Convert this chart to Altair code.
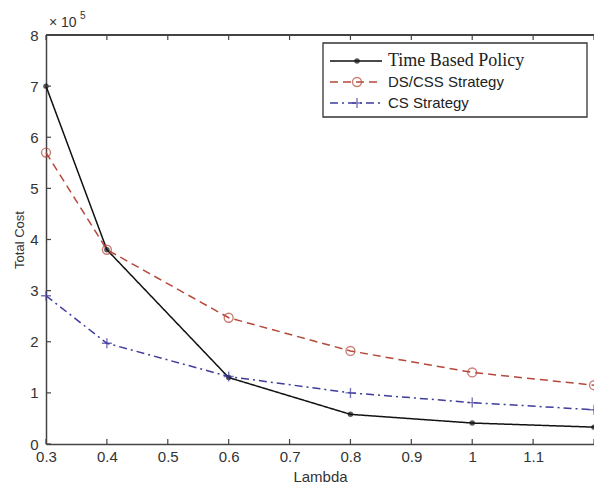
import altair as alt
import pandas as pd

lam = [0.3, 0.4, 0.6, 0.8, 1.0, 1.2]
time_based = [7.0, 3.8, 1.3, 0.58, 0.41, 0.33]
ds_css = [5.7, 3.8, 2.47, 1.82, 1.40, 1.15]
cs = [2.9, 1.97, 1.32, 1.0, 0.81, 0.67]

series_names = ["Time Based Policy", "DS/CSS Strategy", "CS Strategy"]
series_colors = ["#111111", "#b5483a", "#3f3c9c"]
series_dash = [[1, 0], [8, 5], [8, 4, 2, 4]]

x_ticks = [0.3, 0.4, 0.5, 0.6, 0.7, 0.8, 0.9, 1.0, 1.1, 1.2]
y_ticks = [0, 1, 2, 3, 4, 5, 6, 7, 8]

W, H = 548, 409
FONT = "Liberation Sans"

rows = []
for name, vals in zip(series_names, [time_based, ds_css, cs]):
    for l, v in zip(lam, vals):
        rows.append({"series": name, "lambda": l, "cost": v})
df = pd.DataFrame(rows)

xs = alt.Scale(domain=[0.3, 1.2], nice=False, zero=False)
ys = alt.Scale(domain=[0, 8], nice=False)
cscale = alt.Scale(domain=series_names, range=series_colors)
dscale = alt.Scale(domain=series_names, range=series_dash)

base = alt.Chart(df)

lines = base.mark_line(strokeWidth=1.5).encode(
    x=alt.X("lambda:Q", scale=xs,
            axis=alt.Axis(values=x_ticks, title="Lambda", tickSize=0, labelPadding=5,
                          labelFlush=False, labelOverlap=False,
                          labelFont=FONT, labelFontSize=15, labelColor="#333",
                          titleFont=FONT, titleFontSize=15, titleFontWeight="normal",
                          titleColor="#333", titlePadding=5, domainColor="#444",
                          domainWidth=1.5, grid=False,
                          labelExpr="datum.value > 1.15 ? '' : (datum.value == 1 ? '1' : format(datum.value, '.1f'))")),
    y=alt.Y("cost:Q", scale=ys,
            axis=alt.Axis(values=y_ticks, title="Total Cost", tickSize=0, labelPadding=8,
                          labelFlush=False, labelOverlap=False,
                          labelFont=FONT, labelFontSize=15, labelColor="#333",
                          titleFont=FONT, titleFontSize=13, titleFontWeight="normal",
                          titleColor="#333", titlePadding=3, domainColor="#444",
                          domainWidth=1.5, grid=False)),
    color=alt.Color("series:N", scale=cscale, legend=None),
    strokeDash=alt.StrokeDash("series:N", scale=dscale, legend=None),
    detail="series:N",
)

pts_time = alt.Chart(df[df.series == series_names[0]]).mark_point(
    filled=True, shape="circle", size=30, color=series_colors[0]
).encode(x=alt.X("lambda:Q", scale=xs), y=alt.Y("cost:Q", scale=ys))

pts_ds = alt.Chart(df[df.series == series_names[1]]).mark_point(
    filled=False, shape="circle", size=80, color=series_colors[1], strokeWidth=1.4
).encode(x=alt.X("lambda:Q", scale=xs), y=alt.Y("cost:Q", scale=ys))

PLUS = "M-1,0L1,0M0,-1L0,1"
pts_cs = alt.Chart(df[df.series == series_names[2]]).mark_point(
    filled=False, shape=PLUS, size=100, color=series_colors[2], strokeWidth=1.4
).encode(x=alt.X("lambda:Q", scale=xs), y=alt.Y("cost:Q", scale=ys))

# inward ticks
xt = pd.DataFrame({"t": x_ticks})
yt = pd.DataFrame({"t": y_ticks})
tick_style = dict(color="#444", strokeWidth=1.2)
xt_bot = alt.Chart(xt).mark_rule(**tick_style).encode(
    x=alt.X("t:Q", scale=xs), y=alt.value(H), y2=alt.value(H - 5))
xt_top = alt.Chart(xt).mark_rule(**tick_style).encode(
    x=alt.X("t:Q", scale=xs), y=alt.value(0), y2=alt.value(5))
yt_left = alt.Chart(yt).mark_rule(**tick_style).encode(
    y=alt.Y("t:Q", scale=ys), x=alt.value(0), x2=alt.value(5))
top_line = alt.Chart(xt).mark_rule(color="#444", strokeWidth=1.5).encode(
    x=alt.value(0), x2=alt.value(W), y=alt.value(0))

# exponent label
exp_df = pd.DataFrame({"a": [0]})
exp_text = alt.Chart(exp_df).mark_text(
    text="× 10", font=FONT, fontSize=14, color="#333", align="left", baseline="bottom"
).encode(x=alt.value(3), y=alt.value(-5))
exp_sup = alt.Chart(exp_df).mark_text(
    text="5", font=FONT, fontSize=10, color="#333", align="left", baseline="bottom"
).encode(x=alt.value(34), y=alt.value(-14))

# legend
LX0, LX1, LY0, LY1 = 277, 541, 8, 82
leg_box = alt.Chart(exp_df).mark_rect(fill="white", stroke="#333", strokeWidth=1.3).encode(
    x=alt.value(LX0), x2=alt.value(LX1), y=alt.value(LY0), y2=alt.value(LY1))

leg_rows = [26, 47, 68]
leg_df = pd.DataFrame({"series": series_names, "yy": leg_rows})
leg_layers = []
for i, name in enumerate(series_names):
    sub = leg_df[leg_df.series == name]
    leg_layers.append(
        alt.Chart(sub).mark_rule(color=series_colors[i], strokeWidth=1.4,
                                 strokeDash=series_dash[i]).encode(
            x=alt.value(284), x2=alt.value(336), y=alt.value(leg_rows[i]))
    )
leg_layers.append(alt.Chart(leg_df[leg_df.series == series_names[0]]).mark_point(
    filled=True, shape="circle", size=30, color=series_colors[0]).encode(
    x=alt.value(311), y=alt.value(leg_rows[0])))
leg_layers.append(alt.Chart(leg_df[leg_df.series == series_names[1]]).mark_point(
    filled=False, shape="circle", size=80, color=series_colors[1], strokeWidth=1.4).encode(
    x=alt.value(311), y=alt.value(leg_rows[1])))
leg_layers.append(alt.Chart(leg_df[leg_df.series == series_names[2]]).mark_point(
    filled=False, shape=PLUS, size=100, color=series_colors[2], strokeWidth=1.4).encode(
    x=alt.value(311), y=alt.value(leg_rows[2])))
leg_layers.append(alt.Chart(leg_df[leg_df.series == series_names[0]]).mark_text(
    font="Liberation Serif", fontSize=18, color="#222", align="left", baseline="middle").encode(
    x=alt.value(342), y=alt.value(leg_rows[0]), text="series:N"))
leg_layers.append(alt.Chart(leg_df[leg_df.series != series_names[0]]).mark_text(
    font=FONT, fontSize=15, color="#222", align="left", baseline="middle").encode(
    x=alt.value(342), y=alt.Y("yy:Q", scale=None), text="series:N"))

chart = alt.layer(
    lines, pts_time, pts_ds, pts_cs, xt_bot, xt_top, yt_left, top_line,
    exp_text, exp_sup, leg_box, *leg_layers
).properties(
    width=W, height=H,
    autosize=alt.AutoSizeParams(type="none"),
    padding={"left": 46, "top": 35, "right": 0, "bottom": 45},
    background="white",
).configure_view(stroke=None)

chart.save("out.html", embed_options={"renderer": "svg", "actions": False})
